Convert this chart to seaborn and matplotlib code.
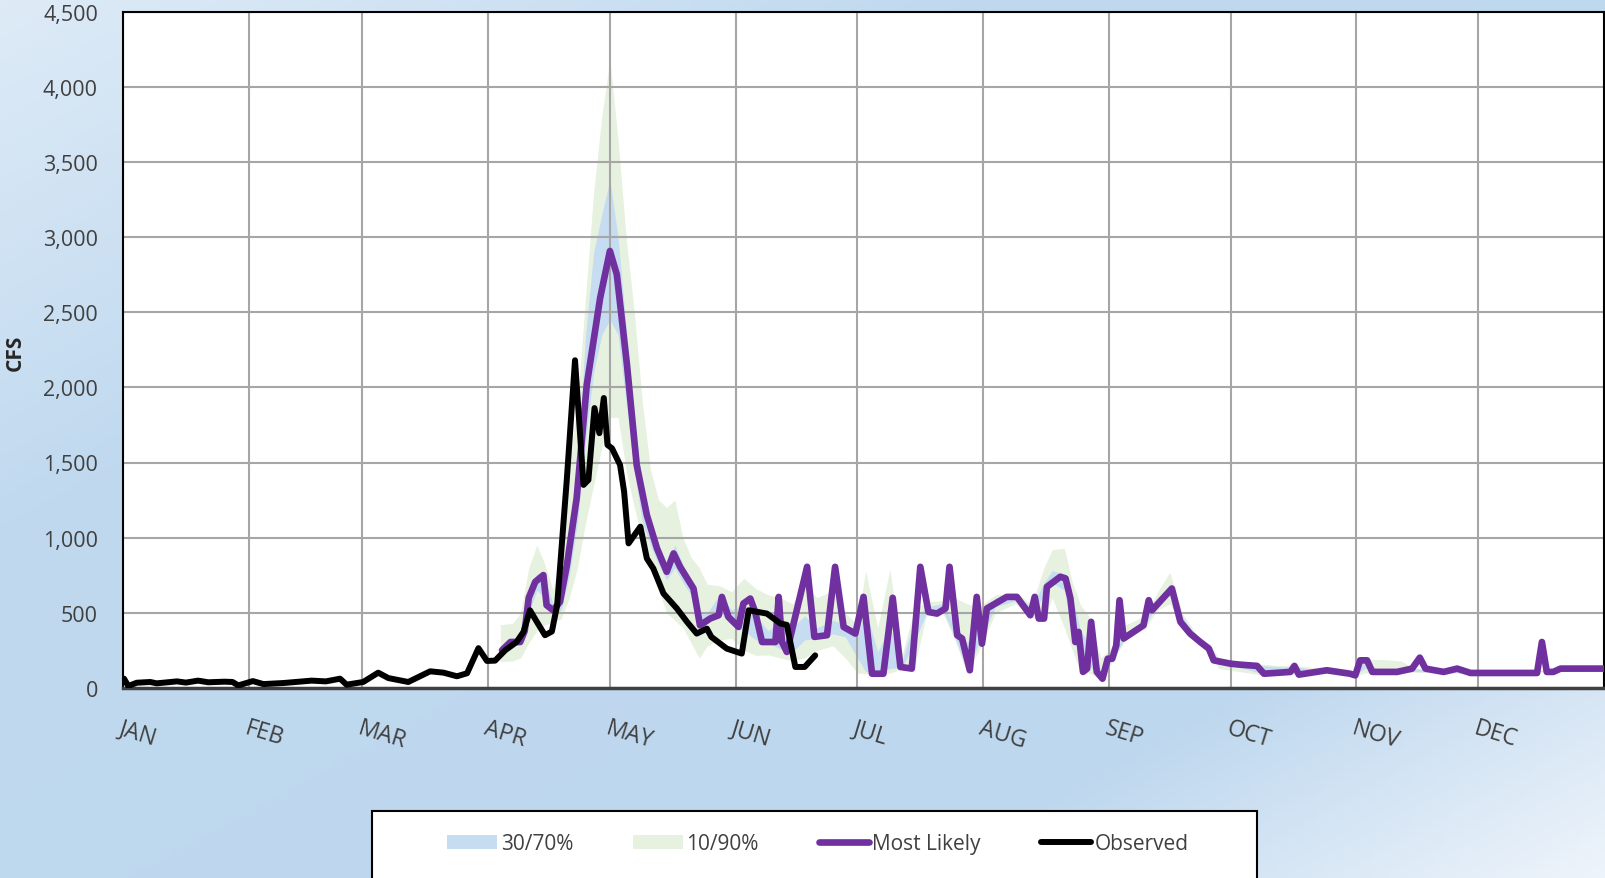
import numpy as np
import pandas as pd
import matplotlib
matplotlib.use("Agg")
import matplotlib.pyplot as plt
import seaborn as sns
from matplotlib.patches import Rectangle, Patch
from matplotlib.lines import Line2D

# month axis (day of year, 0 = Jan 1)
month_starts = [0, 31, 59, 90, 120, 151, 181, 212, 243, 273, 304, 334]
month_labels = ["JAN", "FEB", "MAR", "APR", "MAY", "JUN", "JUL", "AUG", "SEP", "OCT", "NOV", "DEC"]
y_ticks = [0, 500, 1000, 1500, 2000, 2500, 3000, 3500, 4000, 4500]
y_tick_labels = ["0", "500", "1,000", "1,500", "2,000", "2,500", "3,000", "3,500", "4,000", "4,500"]

# observed flow
obs_days = [0.25, 1.3, 3.4, 6.7, 8.3, 13.3, 15.5, 18.5, 21, 25, 27, 28.4, 32, 34.6, 39.5, 46.5, 50,
            53.5, 55.1, 59.2, 62.9, 65.4, 70.3, 75.7, 79, 82.3, 84.8, 87.6, 89.7, 91.7, 94.2, 97,
            98.7, 100.3, 102, 104, 105.7, 107, 109.4, 111.4, 113.5, 114.7, 116.2, 117.4, 118.5,
            119.4, 120.5, 122.5, 123.5, 124.6, 127.5, 129.1, 130.7, 133.2, 136.5, 139, 141.4,
            143.9, 145, 148.8, 152.5, 154.2, 158.7, 162, 163.6, 165.7, 168, 170.6]
obs_cfs = [62, 13, 35, 40, 31, 44, 36, 49, 38, 42, 40, 17, 46, 26, 33, 49, 44,
           62, 22, 40, 102, 66, 40, 111, 102, 78, 98, 265, 180, 182, 251, 306,
           373, 517, 440, 351, 376, 551, 1395, 2180, 1351, 1384, 1862, 1695, 1929,
           1617, 1595, 1484, 1306, 962, 1073, 862, 795, 629, 529, 440, 362,
           395, 340, 262, 229, 517, 495, 429, 420, 140, 140, 217]

# most likely forecast
ml_days = [93.4, 95.5, 97.9, 99, 100, 101.6, 103.6, 104.4, 106, 107.7, 109.4, 111.8, 114.3, 117.6,
           120, 121.7, 124.2, 126.6, 129.1, 131.6, 134, 135.7, 137.3, 140.6, 142.2, 144.7, 146.8,
           147.6, 149.2, 151.7, 152.9, 154.6, 155.8, 157.5, 160.8, 161.6, 162.4, 163.6, 168.6,
           170.4, 173.5, 175.5, 177.6, 180.5, 182.5, 184.6, 187.4, 189.7, 191.6, 194.4, 196.5,
           198.5, 200.6, 202.7, 203.7, 205.6, 206.8, 208.7, 210.4, 211.7, 212.9, 217.8, 220.3,
           223.6, 224.7, 225.7, 227, 227.7, 231, 232.3, 233.5, 234.7, 235.5, 236.6, 237.6, 238.6,
           240, 241.4, 242.7, 243.8, 244.8, 245.6, 246.6, 251.5, 252.8, 253.6, 258.5, 260.6, 263,
           265.5, 267.6, 268.8, 272.9, 275.4, 279.5, 281.2, 287.7, 288.7, 289.8, 296.7, 302.4,
           303.7, 304.9, 306.6, 307.9, 314, 317.7, 319.6, 321, 325.5, 328.8, 332.1, 348.5, 349.7,
           350.9, 352.5, 354.3, 365]
ml_cfs = [251, 306, 306, 380, 600, 706, 751, 551, 517, 573, 817, 1262, 2017, 2595,
          2907, 2751, 2151, 1484, 1151, 929, 773, 895, 806, 662, 417, 462, 484,
          606, 473, 406, 562, 595, 506, 306, 306, 606, 306, 240, 806,
          340, 351, 806, 406, 362, 606, 95, 95, 600, 140, 129, 806,
          506, 495, 529, 806, 351, 329, 118, 606, 295, 529, 606, 606,
          484, 606, 462, 462, 673, 740, 729, 595, 306, 373, 107, 129, 440,
          107, 62, 195, 195, 284, 584, 329, 417, 584, 517, 662, 440, 362,
          306, 262, 184, 162, 155, 147, 95, 107, 147, 89, 118, 95,
          84, 184, 184, 107, 107, 129, 202, 129, 107, 129, 100, 100, 306,
          107, 107, 129, 129]

# exceedance bands
band_days = [93, 96, 98, 100, 102, 104, 106, 108, 110, 112, 114, 116, 118, 120, 122, 124, 126,
             128, 130, 132, 134, 136, 138, 140, 142, 144, 147, 150, 153, 156, 159, 162, 165, 168,
             171, 175, 178, 181, 183, 186, 189, 192, 195, 198, 202, 205, 208, 211, 215, 220, 224,
             227, 229, 232, 234, 236, 238, 241, 244, 247, 252, 255, 258, 261, 265, 268, 270, 275,
             280, 285, 289, 295, 304, 306, 310, 315, 318, 325, 335, 365]
p10 = [175, 180, 200, 300, 380, 420, 440, 460, 600, 800, 1100, 1350, 1600, 1800, 1800, 1450, 1200,
       1000, 800, 650, 500, 450, 400, 300, 200, 280, 320, 330, 250, 217, 220, 200, 180, 200,
       250, 280, 200, 100, 95, 90, 100, 125, 130, 480, 500, 320, 100, 250, 500, 560, 470,
       450, 600, 400, 250, 100, 100, 60, 180, 320, 400, 520, 560, 420, 290, 240, 130, 110,
       90, 95, 95, 100, 80, 100, 100, 100, 105, 100, 95, 120]
p30 = [240, 290, 300, 500, 650, 600, 480, 520, 750, 1100, 1650, 2100, 2350, 2450, 2350, 1900, 1450,
       1100, 950, 820, 720, 800, 700, 620, 420, 430, 500, 420, 380, 320, 300, 260, 240, 320,
       330, 360, 340, 200, 110, 100, 130, 135, 300, 500, 520, 340, 115, 300, 540, 580, 490,
       620, 700, 650, 350, 200, 150, 80, 200, 330, 420, 560, 620, 440, 300, 250, 160, 140,
       100, 100, 105, 110, 90, 130, 105, 105, 110, 105, 98, 125]
p70 = [270, 320, 360, 650, 760, 720, 560, 640, 950, 1450, 2350, 2900, 3150, 3380, 3000, 2400, 1800,
       1350, 1100, 950, 830, 950, 820, 700, 500, 500, 620, 520, 560, 480, 380, 450, 400, 480,
       400, 450, 420, 340, 520, 240, 400, 180, 450, 540, 560, 420, 300, 450, 600, 610, 540,
       700, 780, 760, 600, 380, 300, 120, 230, 370, 450, 600, 680, 480, 320, 270, 185, 160,
       150, 140, 140, 120, 100, 185, 110, 110, 130, 110, 102, 130]
p90 = [420, 430, 500, 800, 950, 820, 650, 900, 1500, 1900, 2600, 3300, 3800, 4180, 3650, 3000, 2500,
       1900, 1450, 1250, 1200, 1250, 1000, 870, 800, 690, 680, 640, 730, 660, 620, 600, 560, 700,
       600, 650, 500, 420, 780, 400, 790, 220, 520, 575, 580, 600, 560, 540, 620, 630, 560,
       800, 920, 930, 700, 550, 480, 200, 280, 420, 480, 640, 770, 500, 340, 290, 200, 175,
       160, 150, 150, 130, 110, 190, 190, 180, 135, 115, 105, 133]

obs = pd.DataFrame({"day": obs_days, "cfs": obs_cfs})
ml = pd.DataFrame({"day": ml_days, "cfs": ml_cfs})

sns.set_style("white")
plt.rcParams["font.family"] = ["Open Sans", "DejaVu Sans"]

W, H = 1606, 879
fig = plt.figure(figsize=(W / 100, H / 100), dpi=100)

# gradient background
bg = fig.add_axes([0, 0, 1, 1], zorder=-10)
gx, gy = np.meshgrid(np.linspace(0, 1, 400), np.linspace(0, 1, 220))
t = (gx + gy) / 2
stops = [0.0, 0.3, 0.78, 1.0]
cols = np.array([[222, 235, 247], [192, 217, 239], [189, 215, 238], [238, 244, 251]]) / 255
grad = np.dstack([np.interp(t, stops, cols[:, k]) for k in range(3)])
bg.imshow(grad, extent=[0, 1, 0, 1], aspect="auto", origin="upper")
bg.axis("off")

ax = fig.add_axes([123 / W, 1 - 689 / H, (1604 - 123) / W, (689 - 12.5) / H])
ax.set_facecolor("white")

green = "#E6F1DF"
blue = "#C6DCF1"
purple = "#7030A0"

ax.fill_between(band_days, p10, p90, color=green, lw=0, zorder=1)
ax.fill_between(band_days, p30, p70, color=blue, lw=0, zorder=1.1)

sns.lineplot(data=ml, x="day", y="cfs", ax=ax, color=purple, lw=4.8, sort=False,
             estimator=None, solid_joinstyle="round", solid_capstyle="round", zorder=3)
sns.lineplot(data=obs, x="day", y="cfs", ax=ax, color="black", lw=4.3, sort=False,
             estimator=None, solid_joinstyle="round", solid_capstyle="round", zorder=4)

ax.set_xlim(0, 365)
ax.set_ylim(0, 4500)
ax.set_xticks(month_starts)
ax.set_xticklabels(month_labels, rotation=-17, ha="left", va="top", rotation_mode="anchor",
                   fontsize=16.5, color="#404040")
ax.set_yticks(y_ticks)
ax.set_yticklabels(y_tick_labels, fontsize=15.5, color="#404040")
ax.tick_params(axis="x", length=0, pad=20)
ax.tick_params(axis="y", length=0, pad=18)
ax.set_xlabel("")
ax.set_ylabel("")
ax.set_axisbelow("line")
ax.grid(True, color="#A6A6A6", lw=1.5)

for side in ["top", "right", "left"]:
    ax.spines[side].set_color("black")
    ax.spines[side].set_linewidth(1.5)
ax.spines["bottom"].set_color("#404040")
ax.spines["bottom"].set_linewidth(2.5)

fig.text(15 / W, 1 - 353 / H, "CFS", rotation=90, ha="center", va="center",
         fontsize=15, fontweight="bold", color="#262626")

# legend box
fig.patches.append(Rectangle((372 / W, -0.02), (1257 - 372) / W, 0.02 + 1 - 812 / H,
                             transform=fig.transFigure, facecolor="white", edgecolor="black",
                             lw=1.5, zorder=1))
handles = [Patch(facecolor=blue, edgecolor="none"),
           Patch(facecolor=green, edgecolor="none"),
           Line2D([], [], color=purple, lw=4.8, solid_capstyle="round"),
           Line2D([], [], color="black", lw=4.3, solid_capstyle="round")]
labels = ["30/70%", "10/90%", "Most Likely", "Observed"]
leg = fig.legend(handles, labels, loc="center", bbox_to_anchor=(818 / W, 1 - 845 / H), ncol=4,
                 frameon=False, fontsize=15, handlelength=2.4, handleheight=0.65,
                 handletextpad=0.15, columnspacing=2.9)
for txt in leg.get_texts():
    txt.set_color("#404040")
leg.set_zorder(5)

fig.savefig("out.png", dpi=100)
